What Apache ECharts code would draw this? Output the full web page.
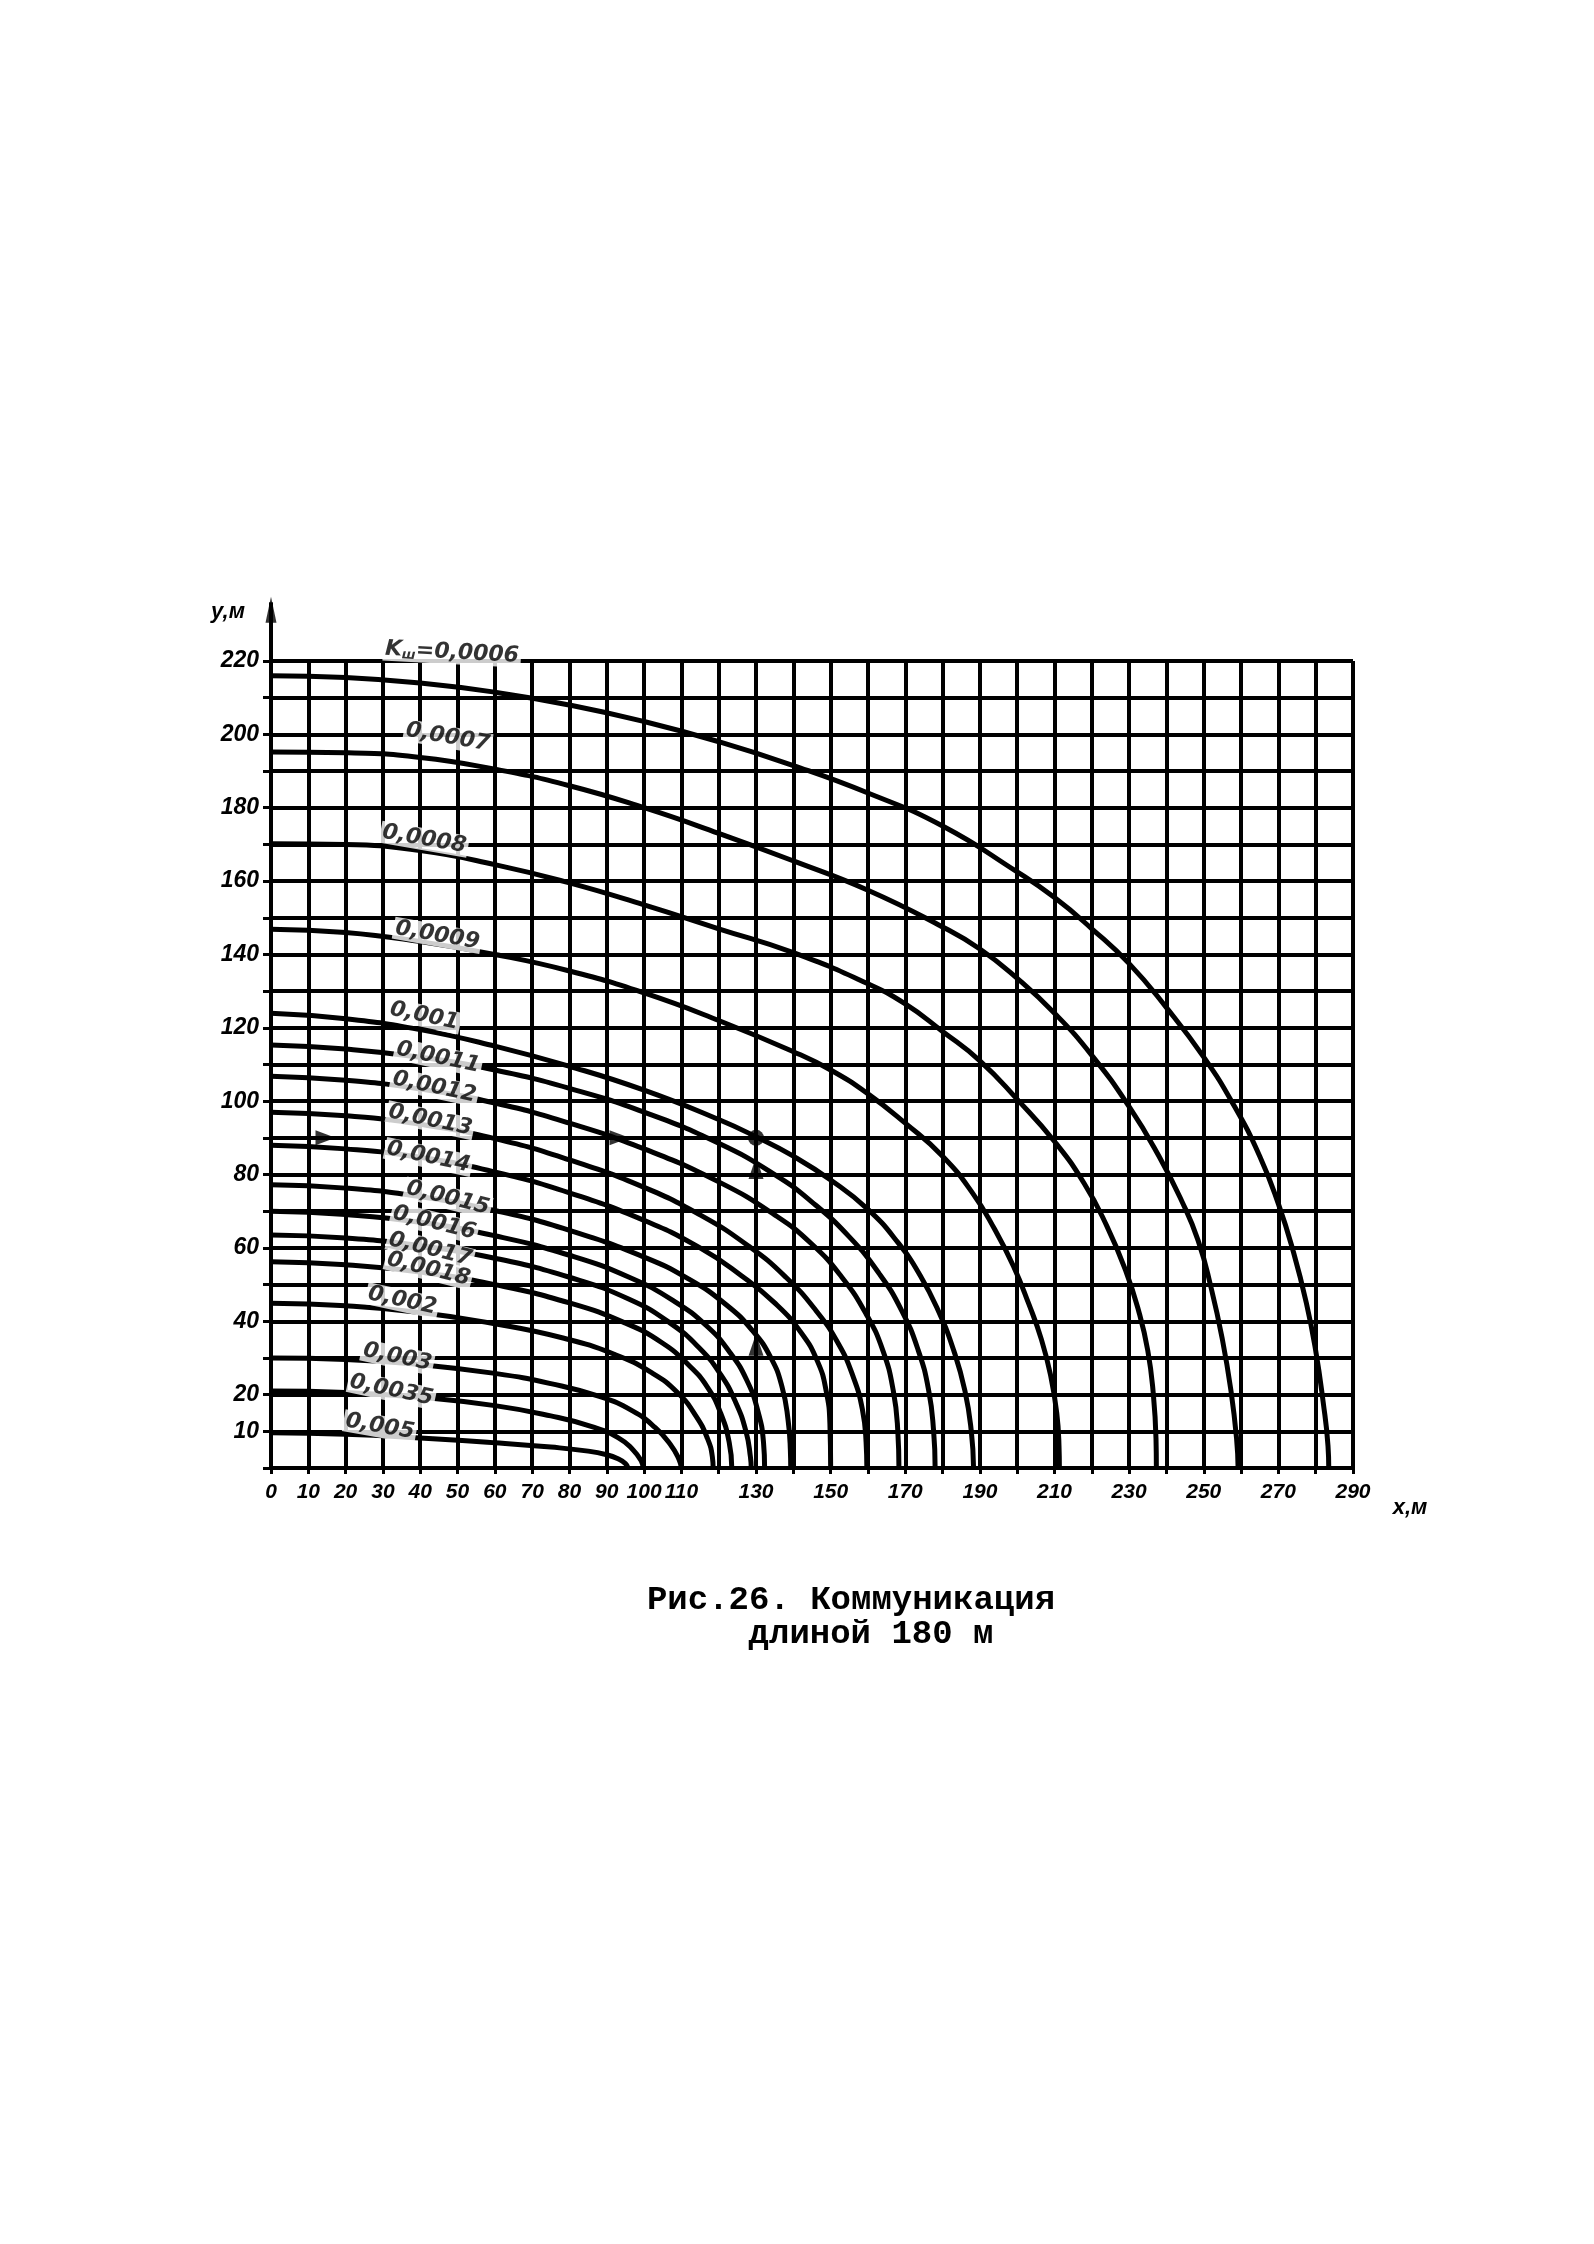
<!DOCTYPE html>
<html><head><meta charset="utf-8">
<script src="https://cdn.jsdelivr.net/npm/echarts@6.0.0/dist/echarts.min.js"></script>
<style>html,body{margin:0;padding:0;background:#fff}#c{width:1594px;height:2244px}</style>
</head><body><div id="c"></div>
<script>
// tick labels shown on the axes
const xTickLabels = [0,10,20,30,40,50,60,70,80,90,100,110,130,150,170,190,210,230,250,270,290];
const yTickLabels = [10,20,40,60,80,100,120,140,160,180,200,220];

// curve names (coefficient K)
const kNames = ['0,0006','0,0007','0,0008','0,0009','0,001','0,0011','0,0012','0,0013','0,0014',
                '0,0015','0,0016','0,0017','0,0018','0,002','0,003','0,0035','0,005'];

// curves: [x, y] in metres
const c0006 = [[0,216],[20,215.5],[40,214],[60,211.5],[80,208],[100,203.5],[120,198],[140,191.5],[160,184],[180,175],[200,162.5],[210,155.5],[220,147],[230,137.5],[240,125.5],[250,112],[258,99],[265,85],[270,72],[274,59],[277.5,45],[280,32],[282,18],[283.3,6],[283.5,0]];
const c0007 = [[0,195.2],[20,195],[40,193.7],[60,190.5],[80,186],[100,180],[120,173],[140,165.5],[160,157.5],[180,147.5],[190,141.5],[200,133.5],[210,124],[220,112.5],[230,98.5],[238,85],[244,73],[248.5,62],[252,49],[255,35],[257.3,21],[258.8,8],[259.2,0]];
const c0008 = [[0,170.2],[20,170],[40,168.3],[60,164.5],[80,159.5],[100,153.5],[120,147],[140,140.5],[160,132],[170,126.5],[180,119],[190,111],[200,100.5],[210,89],[218,77.5],[224,66],[229,54],[232.5,43],[235,32],[236.5,20],[237.2,8],[237.3,0]];
const c0009 = [[0,146.9],[20,146],[40,143.5],[60,140],[80,135.5],[100,129.5],[120,122],[140,113.5],[150,108.5],[160,102],[170,94],[180,85],[188,75],[194,65],[199,55],[203,45],[206.5,35],[209,25],[210.6,15],[211.2,6],[211.3,0]];
const c0010 = [[0,124],[20,122.5],[40,119.5],[60,115],[80,109.5],[100,103],[120,95],[130,90.3],[140,85],[150,78.5],[160,70.5],[168,61.5],[174,52.5],[179,42.5],[183,32],[186,21],[187.7,10],[188.3,0]];
const c0011 = [[0,115.3],[20,114.2],[40,112],[60,108.5],[80,103.5],[100,97],[120,88.5],[135,80],[145,72.5],[155,63],[163,53],[169,43],[173.5,32],[176.3,21],[177.6,10],[178,0]];
const c0012 = [[0,106.8],[20,105.7],[40,103.3],[60,99.5],[80,94],[100,87],[120,78],[135,69],[145,61],[153,52],[159.5,42],[164,32],[166.8,21],[168,10],[168.3,0]];
const c0013 = [[0,97],[20,96],[40,93.7],[60,89.8],[80,84],[100,76.5],[115,69],[128,60.5],[138,52],[146,43],[152,34],[156,25],[158.5,16],[159.5,7],[159.7,0]];
const c0014 = [[0,88],[20,87],[40,84.7],[60,80.7],[80,75],[100,67.5],[115,60],[126,52.5],[135,45],[142,37],[146.5,29],[148.8,21],[149.8,12],[150,0]];
const c0015 = [[0,77.2],[20,76.3],[40,74],[60,70.2],[80,64.8],[100,57.5],[112,51.5],[122,44.5],[129,37.5],[134,30],[137,22],[138.6,13],[139.2,5],[139.3,0]];
const c0016 = [[0,70],[20,69.1],[40,67],[60,63.3],[80,58],[96,52],[108,45.5],[117,38.5],[123,31.5],[127.5,24],[130.5,15.5],[132,7],[132.3,0]];
const c0017 = [[0,63.5],[20,62.7],[40,60.6],[60,57.2],[80,52],[96,46],[107,39.5],[115,32.5],[120.5,25.5],[124.5,18],[127.3,10],[128.5,3],[128.7,0]];
const c0018 = [[0,56.2],[20,55.4],[40,53.4],[60,50],[80,45],[95,39.5],[105,34],[112,28],[117,22],[120.5,15],[122.8,7],[123.5,0]];
const c0020 = [[0,44.9],[20,44.2],[40,42.4],[60,39.3],[78,35.5],[92,31],[102,26],[109,20.5],[114,14],[117,8],[118.3,3],[118.5,0]];
const c0030 = [[0,30],[20,29.6],[40,28.2],[60,25.8],[75,23],[88,19.5],[97,15.5],[103,11],[107,6.5],[109.3,2.5],[110,0]];
const c0035 = [[0,21],[20,20.6],[40,19.3],[60,17],[75,14.2],[86,11.3],[93,8.3],[97,5],[99.2,2],[99.7,0]];
const c0050 = [[0,9.6],[20,9.2],[40,8.2],[60,6.9],[75,5.7],[85,4.6],[90,3.6],[93,2.5],[95,1.2],[95.7,0]];
const curves = [c0006,c0007,c0008,c0009,c0010,c0011,c0012,c0013,c0014,c0015,c0016,c0017,c0018,c0020,c0030,c0035,c0050];

// where each curve's name is written (data coordinates)
const labelAt = [[48.5,222.3],[47.4,199.2],[41.1,171.4],[44.6,145.2],[41.1,123.2],[44.8,111.9],[43.8,103.8],[42.7,94.8],[42.2,84.8],
                 [47.4,73.6],[43.8,66.8],[42.7,59.6],[42.2,54.2],[35.2,45.6],[33.9,30.2],[32.3,21.2],[29.2,11.3]];
const labelTilt = [-3,-10,-10,-10,-12,-12,-12,-12,-12,-14,-14,-14,-14,-12,-12,-12,-10];

// example reading: arrows along y = 90 and x = 130, point (130, 90)
const arrowsRight = [[14.6,90],[93.4,90]];
const arrowsUp = [[130,81.8],[130,33.6]];
const examplePoint = [[130,90]];

// axis extensions beyond the grid
const xAxisExt = [[290,0],[308,0]];
const yAxisExt = [[0,220],[0,236]];
const yArrowTip = [[0,234]];

const FONT = "'Liberation Sans Narrow','Liberation Sans',Arial,sans-serif";
const LFONT = "'DejaVu Sans',sans-serif";
const BLACK = '#000';

const series = [];
curves.forEach((c, i) => {
  series.push({
    type: 'line', name: kNames[i], data: c, smooth: 0.5, showSymbol: false, silent: true,
    lineStyle: { color: BLACK, width: 5 }, z: 3, clip: false
  });
});
series.push({
  type: 'scatter', symbolSize: 0, silent: true, z: 6, clip: false,
  data: labelAt.map((p, i) => ({
    value: [p[0], p[1], kNames[i]],
    label: { rotate: labelTilt[i], formatter: i === 0 ? '{k|K}{s|ш}{k|=' + kNames[0] + '}' : kNames[i] }
  })),
  label: {
    show: true, position: 'inside', color: BLACK, fontFamily: LFONT, fontStyle: 'italic', fontWeight: 'bold',
    fontSize: 22, backgroundColor: '#fff', padding: [0, 2],
    rich: {
      k: { fontFamily: LFONT, fontStyle: 'italic', fontWeight: 'bold', fontSize: 22, color: BLACK },
      s: { fontFamily: LFONT, fontStyle: 'italic', fontWeight: 'bold', fontSize: 13, color: BLACK, padding: [10, 0, 0, 0] }
    }
  }
});
series.push({ type: 'line', data: xAxisExt, showSymbol: false, silent: true, clip: false, lineStyle: { color: BLACK, width: 4 }, z: 4 });
series.push({ type: 'line', data: yAxisExt, showSymbol: false, silent: true, clip: false, lineStyle: { color: BLACK, width: 4 }, z: 4 });
series.push({ type: 'scatter', data: yArrowTip, symbol: 'triangle', symbolSize: [11, 26], itemStyle: { color: BLACK }, silent: true, clip: false, z: 5 });
series.push({ type: 'scatter', data: arrowsRight, symbol: 'triangle', symbolRotate: -90, symbolSize: [15, 20], itemStyle: { color: BLACK }, silent: true, z: 7 });
series.push({ type: 'scatter', data: arrowsUp, symbol: 'triangle', symbolSize: [15, 22], itemStyle: { color: BLACK }, silent: true, z: 7 });
series.push({ type: 'scatter', data: examplePoint, symbol: 'circle', symbolSize: 16, itemStyle: { color: BLACK }, silent: true, z: 7 });

const chart = echarts.init(document.getElementById('c'), null, { renderer: 'canvas' });
chart.setOption({
  backgroundColor: '#fff',
  animation: false,
  grid: { left: 271, top: 661, right: 241, bottom: 776, containLabel: false },
  xAxis: {
    type: 'value', min: 0, max: 290, interval: 10,
    axisLine: { show: true, lineStyle: { color: BLACK, width: 4 } },
    axisTick: { show: true, length: 6, lineStyle: { color: BLACK, width: 3 } },
    splitLine: { show: true, showMinLine: true, showMaxLine: true, lineStyle: { color: BLACK, width: 4 } },
    axisLabel: { margin: 14, color: BLACK, fontFamily: FONT, fontStyle: 'italic', fontWeight: 'bold', fontSize: 21,
                 formatter: v => xTickLabels.includes(v) ? String(v) : '' }
  },
  yAxis: {
    type: 'value', min: 0, max: 220, interval: 10,
    axisLine: { show: true, lineStyle: { color: BLACK, width: 4 } },
    axisTick: { show: true, length: 8, lineStyle: { color: BLACK, width: 3 } },
    splitLine: { show: true, showMinLine: true, showMaxLine: true, lineStyle: { color: BLACK, width: 4 } },
    axisLabel: { margin: 12, color: BLACK, fontFamily: FONT, fontStyle: 'italic', fontWeight: 'bold', fontSize: 23,
                 formatter: v => yTickLabels.includes(v) ? String(v) : '' }
  },
  graphic: [
    { type: 'text', x: 228, y: 612, style: { text: 'y,м', fill: BLACK, font: "italic bold 22px " + FONT, textAlign: 'center', textVerticalAlign: 'middle' } },
    { type: 'text', x: 1410, y: 1508, style: { text: 'x,м', fill: BLACK, font: "italic bold 22px " + FONT, textAlign: 'center', textVerticalAlign: 'middle' } },
    { type: 'text', x: 851, y: 1600, style: { text: 'Рис.26. Коммуникация', fill: BLACK, font: "bold 34px 'Liberation Mono','DejaVu Sans Mono',monospace", textAlign: 'center', textVerticalAlign: 'middle' } },
    { type: 'text', x: 871, y: 1634, style: { text: 'длиной 180 м', fill: BLACK, font: "bold 34px 'Liberation Mono','DejaVu Sans Mono',monospace", textAlign: 'center', textVerticalAlign: 'middle' } }
  ],
  series: series
});
</script>
</body></html>
